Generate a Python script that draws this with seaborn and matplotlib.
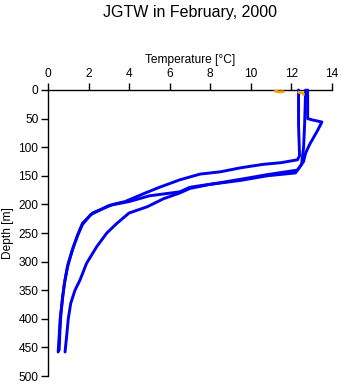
import matplotlib
matplotlib.use("Agg")
import matplotlib.pyplot as plt
import seaborn as sns
import pandas as pd

# Profile data (temperature [°C], depth [m])
p1_temp = [12.35, 12.35, 12.4, 12.3, 11.5, 10.6, 9.5, 8.5, 7.5, 6.5, 5.5, 4.8, 3.8, 3.2, 2.2, 1.7, 1.5, 1.25, 1.0, 0.84, 0.72, 0.64, 0.59, 0.55]
p1_depth = [0, 60, 115, 122, 127, 130, 136, 143, 147, 157, 170, 180, 195, 200, 215, 233, 250, 274, 303, 332, 361, 390, 420, 455]

p2_temp = [12.8, 12.8, 13.0, 13.5, 13.3, 12.9, 12.7, 12.6, 12.3, 10.8, 10.0, 8.5, 7.0, 6.5, 5.0, 4.0, 3.0, 2.1, 1.7, 1.45, 1.2, 0.95, 0.8, 0.7, 0.6, 0.55, 0.5]
p2_depth = [0, 50, 52, 56, 70, 95, 110, 125, 140, 148, 153, 162, 170, 178, 185, 195, 202, 218, 235, 255, 280, 310, 340, 370, 400, 430, 458]

p3_temp = [12.7, 12.65, 12.6, 12.5, 12.2, 10.8, 9.5, 8.0, 7.0, 6.5, 5.7, 4.9, 4.0, 3.4, 2.9, 2.4, 1.9, 1.58, 1.33, 1.12, 1.0, 0.92, 0.84]
p3_depth = [0, 60, 100, 130, 145, 150, 158, 165, 172, 180, 190, 204, 215, 233, 250, 274, 303, 332, 350, 373, 400, 430, 458]

# Surface points (orange)
s1_temp = [11.2, 11.4, 11.6]
s1_depth = [2, 3.5, 3]
s2_temp = [12.35, 12.55, 12.6]
s2_depth = [4, 5, 8]

rows = []
for name, t, d in [("p1", p1_temp, p1_depth), ("p2", p2_temp, p2_depth), ("p3", p3_temp, p3_depth)]:
    for ti, di in zip(t, d):
        rows.append({"profile": name, "temp": ti, "depth": di})
df = pd.DataFrame(rows)

srows = []
for name, t, d in [("s1", s1_temp, s1_depth), ("s2", s2_temp, s2_depth)]:
    for ti, di in zip(t, d):
        srows.append({"profile": name, "temp": ti, "depth": di})
sdf = pd.DataFrame(srows)

sns.set_style("ticks")
plt.rcParams['font.family'] = ['Liberation Sans', 'DejaVu Sans']
plt.rcParams['text.color'] = 'black'
plt.rcParams['axes.labelcolor'] = 'black'
plt.rcParams['xtick.color'] = 'black'
plt.rcParams['ytick.color'] = 'black'

fig = plt.figure(figsize=(3.41, 3.84), dpi=100)
ax = fig.add_axes([48/341, 1 - 376/384, (332-48)/341, (376-90)/384])

sns.lineplot(data=df, x="temp", y="depth", units="profile", estimator=None,
             sort=False, color="#0000f0", linewidth=2.1, ax=ax, legend=False)
sns.lineplot(data=sdf, x="temp", y="depth", units="profile", estimator=None,
             sort=False, color="orange", linewidth=2.0, ax=ax, legend=False)
for i, ln in enumerate(ax.lines):
    ln.set_clip_on(False)
    ln.set_zorder(3 if ln.get_color() == "orange" else 2.6)

ax.set_xlim(0, 14)
ax.set_ylim(500, 0)
ax.set_xticks([0, 2, 4, 6, 8, 10, 12, 14])
ax.set_yticks([0, 50, 100, 150, 200, 250, 300, 350, 400, 450, 500])
ax.xaxis.tick_top()
ax.xaxis.set_label_position("top")
ax.set_xlabel("Temperature [°C]", fontsize=8.6, labelpad=4)
ax.set_ylabel("Depth [m]", fontsize=8.6, labelpad=3)
ax.tick_params(axis="both", labelsize=8.6, length=5, width=1, color="black",
               labelcolor="black", direction="out")
ax.tick_params(axis="x", pad=2)
ax.tick_params(axis="y", pad=2)
for s in ["right", "bottom"]:
    ax.spines[s].set_visible(False)
for s in ["top", "left"]:
    ax.spines[s].set_linewidth(1)
    ax.spines[s].set_color("black")

fig.text(190/341, 1 - 12/384, "JGTW in February, 2000", ha="center", va="center",
         fontsize=11.5, color="black")

fig.savefig("out.png", dpi=100)
